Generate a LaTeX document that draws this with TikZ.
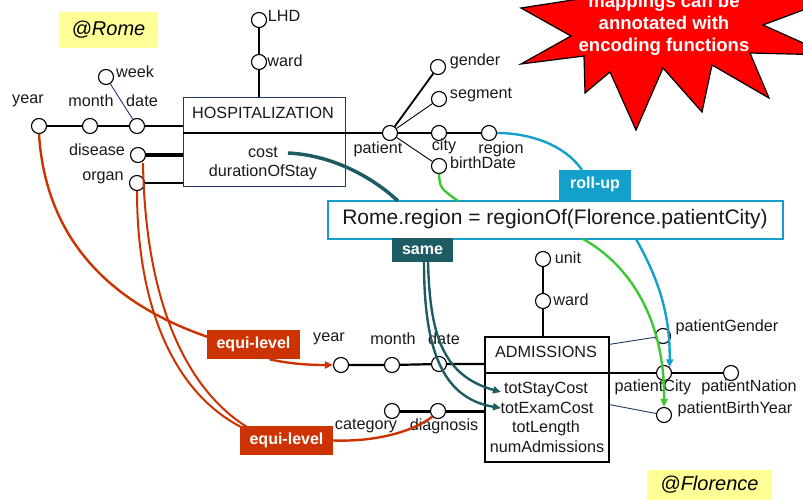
\documentclass[tikz,border=0pt]{standalone}
\usepackage{fontspec}
\setmainfont{Liberation Sans}
\usetikzlibrary{arrows.meta}
\definecolor{eqred}{RGB}{204,51,0}
\definecolor{sameteal}{RGB}{30,92,100}
\definecolor{rollblue}{RGB}{20,160,205}
\definecolor{mapgreen}{RGB}{60,200,50}
\definecolor{noteyellow}{RGB}{255,255,150}
\definecolor{navy}{RGB}{31,56,100}
\definecolor{starred}{RGB}{255,0,0}
\begin{document}
\begin{tikzpicture}[x=1pt,y=-1pt,
  attr/.style={circle,draw=black,fill=white,line width=1.1pt,minimum size=15pt,inner sep=0pt},
  lbl/.style={font=\fontsize{16.2}{18}\selectfont,inner sep=0pt,text=black!90},
  bold/.style={line width=2.2pt},
  fine/.style={line width=0.9pt},
  badge/.style={fill=#1,text=white,font=\bfseries\fontsize{16}{18}\selectfont,inner sep=0pt},
  flow/.style={draw=#1,line width=2.4pt},
  tip/.style={-{Triangle[length=8pt,width=7pt]}},
  site/.style={fill=noteyellow,inner sep=0pt,font=\itshape\fontsize{20}{22}\selectfont},
]
\useasboundingbox (0,0) rectangle (803,500);

% call-out star, cut by the page edge
\begin{scope}
  \clip (0,0) rectangle (803,500);
  \draw[fill=starred,draw=black,line width=1.2pt,line join=miter]
    (521,8) -- (571,36) -- (521,64) -- (584,56) -- (585,93) -- (610,72)
    -- (636,130) -- (663,68) -- (702,112) -- (712,65) -- (769,98)
    -- (750,53) -- (830,55) -- (763,25) -- (830,0) -- (760,-10)
    -- (740,-40) -- (700,-10) -- (660,-45) -- (630,-10) -- (590,-40)
    -- (592,-3) -- cycle;
  \node[align=center,text=white,font=\bfseries\fontsize{18.5}{22}\selectfont,inner sep=0pt]
    (note) at (664,25) {mappings can be\\annotated with\\encoding functions};
\end{scope}

% site tags
\node[site,minimum width=99pt,minimum height=36pt] (rome) at (108.5,30) {@Rome};
\node[site,minimum width=125pt,minimum height=31pt] (flor) at (709.5,485) {@Florence};

% fact boxes
\node[draw=navy,line width=1pt,fill=white,minimum width=162pt,minimum height=88pt,inner sep=0pt] (hosp) at (264,142) {};
\node[draw=black,line width=1.3pt,fill=white,minimum width=124pt,minimum height=125pt,inner sep=0pt] (adm) at (547,399.5) {};

% Rome attributes
\node[attr] (yearR) at (39,126) {};
\node[attr] (monthR) at (90,126) {};
\node[attr] (dateR) at (137,126) {};
\node[attr] (weekR) at (106,77) {};
\node[attr] (diseaseR) at (138,155) {};
\node[attr] (organR) at (137,183) {};
\node[attr] (lhdR) at (259,20) {};
\node[attr] (wardR) at (259,62) {};
\node[attr] (patient) at (390,133) {};
\node[attr] (gender) at (438,67) {};
\node[attr] (segment) at (439,99) {};
\node[attr] (city) at (439,133) {};
\node[attr] (region) at (489,133) {};
\node[attr] (birth) at (439,166) {};

% Florence attributes
\node[attr] (yearF) at (341,365) {};
\node[attr] (monthF) at (392,365) {};
\node[attr] (dateF) at (439,364) {};
\node[attr] (categoryF) at (392,411) {};
\node[attr] (diagnosisF) at (438,411) {};
\node[attr] (unitF) at (543,259) {};
\node[attr] (wardF) at (543,301) {};
\node[attr] (pGender) at (663,336) {};
\node[attr] (pCity) at (664,373) {};
\node[attr] (pNation) at (731,373) {};
\node[attr] (pBirth) at (664,415) {};

% Rome hierarchy edges
\draw[bold] (yearR) -- (monthR) -- (dateR) -- (dateR -| hosp.west);
\draw[fine,draw=navy] (weekR) -- (dateR);
\draw[line width=3pt] (diseaseR) -- (diseaseR -| hosp.west);
\draw[line width=2pt] (organR) -- (organR -| hosp.west);
\draw[bold] (lhdR) -- (wardR) -- (wardR |- hosp.north);
\draw[bold] (hosp.west |- patient) -- (patient);
\draw[line width=1.8pt] (patient) -- (gender);
\draw[fine] (patient) -- (segment);
\draw[bold] (patient) -- (city) -- (region);
\draw[fine] (patient) -- (birth);

% Florence hierarchy edges
\draw[bold] (yearF) -- (monthF) -- (dateF) -- (dateF -| adm.west);
\draw[line width=3pt] (categoryF) -- (diagnosisF) -- (diagnosisF -| adm.west);
\draw[bold] (unitF) -- (wardF) -- (wardF |- adm.north);
\draw[bold] (adm.west |- pCity) -- (pCity) -- (pNation);
\draw[fine,draw=navy] ([yshift=-8pt]adm.north east) -- (pGender);
\draw[fine,draw=navy] ([yshift=58pt]adm.south east) -- (pBirth);

% texts
\node[lbl] (yearRt) at (28,101) {year};
\node[lbl] (monthRt) at (91,101) {month};
\node[lbl] (dateRt) at (142,101) {date};
\node[lbl] (weekRt) at (135,72) {week};
\node[lbl] (diseaseRt) at (97,150) {disease};
\node[lbl] (organRt) at (103,178) {organ};
\node[lbl] (lhdRt) at (284,16) {LHD};
\node[lbl] (wardRt) at (285,61) {ward};
\node[lbl] (hospT) at (263,113) {HOSPITALIZATION};
\node[lbl] (costT) at (263,152) {cost};
\node[lbl] (durT) at (263,172) {durationOfStay};
\node[lbl] (patientt) at (378,149) {patient};
\node[lbl] (gendert) at (475,61) {gender};
\node[lbl] (segmentt) at (481,95) {segment};
\node[lbl] (cityt) at (444,146) {city};
\node[lbl] (regiont) at (501,149) {region};
\node[lbl] (birtht) at (483,163) {birthDate};

\node[lbl] (yearFt) at (329,339) {year};
\node[lbl] (monthFt) at (393,339) {month};
\node[lbl] (dateFt) at (444,339) {date};
\node[lbl] (categoryFt) at (366,426) {category};
\node[lbl] (diagnosisFt) at (444,426) {diagnosis};
\node[lbl] (unitFt) at (568,258) {unit};
\node[lbl] (wardFt) at (571,300) {ward};
\node[lbl] (admT) at (546,352) {ADMISSIONS};
\node[lbl] (stayT) at (546,390) {totStayCost};
\node[lbl] (examT) at (547,408) {totExamCost};
\node[lbl] (lenT) at (546,428) {totLength};
\node[lbl] (numT) at (547,447) {numAdmissions};
\node[lbl] (pGendert) at (727,327) {patientGender};
\node[lbl] (pCityt) at (653,387) {patientCity};
\node[lbl] (pNationt) at (749,387) {patientNation};
\node[lbl] (pBirtht) at (735,409) {patientBirthYear};

% encoding function and mapping tags
\node[draw=rollblue,line width=2pt,fill=white,minimum width=455pt,minimum height=38pt,inner sep=0pt,
      font=\fontsize{21}{24}\selectfont,text=black!90] (enc) at (555,219.5)
      {Rome.region = regionOf(Florence.patientCity)};
\node[badge=eqred,minimum width=93pt,minimum height=29pt] (equi1) at (253.5,344.5) {equi-level};
\node[badge=eqred,minimum width=93pt,minimum height=29pt] (equi2) at (286.5,440.5) {equi-level};
\node[badge=rollblue,minimum width=72pt,minimum height=30pt] (rollup) at (595,184.5) {roll-up};
\node[badge=sameteal,minimum width=61pt,minimum height=24pt] (same) at (422.5,250) {same};

% attachment points of the mapping curves
\coordinate (eq1in) at (208,337);
\coordinate (eq2inA) at (241,427);
\coordinate (eq2inB) at (247,427);
\coordinate (costEnd) at (288,153);
\coordinate (encCost) at (398,201);
\coordinate (encBirth) at (458,201);
\coordinate (rollIn) at (582,170);
\coordinate (encRoll) at (636,239);
\coordinate (encGreen) at (583,239);
\coordinate (sameA) at (428,262);
\coordinate (sameB) at (424,262);
\coordinate (stayIn) at (501,392);
\coordinate (examIn) at (501,408);

% equi-level mappings
\draw[flow=eqred] (yearR.south) .. controls (45,230) and (100,300) .. (eq1in);
\draw[flow=eqred,tip] ([xshift=16pt]equi1.south) .. controls (290,364) and (310,365) .. (yearF.west);
\draw[flow=eqred,line width=2pt] (organR.south) .. controls (137,300) and (170,390) .. (eq2inA);
\draw[flow=eqred,line width=2pt] ([xshift=5pt]diseaseR.south) .. controls (145,290) and (180,385) .. (eq2inB);
\draw[flow=eqred] (equi2.east) .. controls (380,442) and (415,430) .. (diagnosisF.south west);

% same mapping
\draw[flow=sameteal,line width=3.5pt] (costEnd) .. controls (330,155) and (370,175) .. (encCost);
\draw[flow=sameteal,tip] (sameA) .. controls (430,330) and (440,375) .. (stayIn);
\draw[flow=sameteal,tip] (sameB) .. controls (424,345) and (440,398) .. (examIn);

% roll-up mapping
\draw[flow=rollblue] (region.east) .. controls (530,133) and (565,145) .. (rollIn);
\draw[flow=rollblue,tip] (encRoll) .. controls (662,285) and (670,320) .. (pCity.north east);

% birth date mapping
\draw[flow=mapgreen] (birth.south) .. controls (440,188) .. (encBirth);
\draw[flow=mapgreen,tip] (encGreen) .. controls (630,265) and (665,320) .. (pBirth.north);
\end{tikzpicture}
\end{document}
